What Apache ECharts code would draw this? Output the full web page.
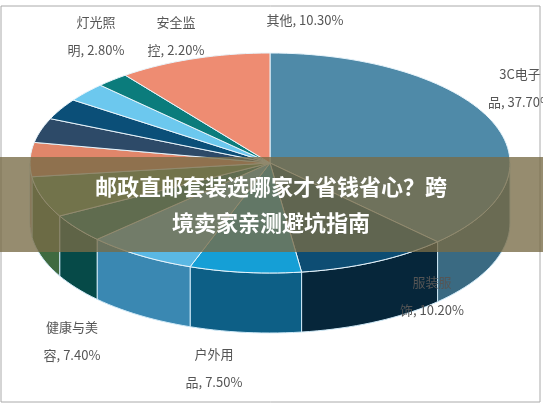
<!DOCTYPE html>
<html><head><meta charset="utf-8">
<script src="https://cdn.jsdelivr.net/npm/echarts@6/dist/echarts.min.js"></script>
<style>html,body{margin:0;padding:0;background:#fff}#main{width:543px;height:408px}</style>
</head><body><div id="main"></div>
<script>
var names = ['3C电子\n品', '服装服\n饰', '户外用\n品', '健康与美\n容', '珠宝首\n饰', '家居园\n艺', '鞋类箱\n包', '母婴玩\n具', '汽车配\n件', '灯光照\n明', '安全监\n控', '其他'];
var values = [37.7, 10.2, 7.5, 7.4, 4.2, 6.0, 5.0, 3.6, 3.1, 2.8, 2.2, 10.3];
var topColors = ['#4f8aa8', '#0d4d73', '#159fd6', '#5ab8e4', '#0a6e6c', '#5e8f5e', '#e0866a', '#2d4a68', '#0b4f78', '#6cc8ee', '#0b7c7c', '#ee8c72'];
var sideColors = ['#3a6a82', '#06263a', '#0d5f86', '#3a88b2', '#064a48', '#3f6a40', '#a8604a', '#1c3048', '#072f4a', '#3d95bd', '#065454', '#b8644f'];
// label anchor positions (layout only)
var labelPos = [[520, 88], [432, 296], [214, 368], [72, 341], [-2, 314], [-2, 212], [-2, 172], [-2, 110], [-2, 58], [96, 36], [176, 36], [305, 20]];

var cx = 270, cy = 163, rx = 240, ry = 110, depth = 60;
var total = values.reduce(function (a, b) { return a + b; }, 0);
var starts = [], acc = 0;
values.forEach(function (v) { starts.push(acc / total * 360); acc += v; });

function pt(deg, dy) {
    var t = deg * Math.PI / 180;
    return [cx + rx * Math.sin(t), cy - ry * Math.cos(t) + (dy || 0)];
}
function arc(a, b, dy) {
    var pts = [];
    var n = Math.max(2, Math.ceil((b - a) / 2));
    for (var i = 0; i <= n; i++) pts.push(pt(a + (b - a) * i / n, dy));
    return pts;
}

var chart = echarts.init(document.getElementById('main'));
chart.setOption({
    animation: false,
    series: [
        {
            type: 'custom', coordinateSystem: 'none', data: values,
            renderItem: function (params, api) {
                var i = params.dataIndex;
                var a = starts[i], b = a + values[i] / total * 360;
                var a2 = Math.max(a, 90), b2 = Math.min(b, 270);
                if (b2 <= a2) return { type: 'group', children: [] };
                var pts = arc(a2, b2, 0).concat(arc(a2, b2, depth).reverse());
                return { type: 'polygon', shape: { points: pts },
                    style: { fill: sideColors[i], stroke: '#cfe9f7', lineWidth: 1 } };
            }
        },
        {
            type: 'custom', coordinateSystem: 'none', data: values,
            renderItem: function (params, api) {
                var i = params.dataIndex;
                var a = starts[i], b = a + values[i] / total * 360;
                var pts = [[cx, cy]].concat(arc(a, b, 0));
                var txt = names[i] + ', ' + values[i].toFixed(2) + '%';
                return { type: 'group', children: [
                    { type: 'polygon', shape: { points: pts },
                      style: { fill: topColors[i], stroke: '#e8f4fb', lineWidth: 1 } },
                    { type: 'text', x: labelPos[i][0], y: labelPos[i][1],
                      style: { text: txt, fill: '#555', font: '13px "Noto Sans CJK SC"', lineHeight: 28,
                               align: labelPos[i][0] < 10 ? 'right' : 'center', verticalAlign: 'middle' } }
                ] };
            }
        }
    ],
    graphic: [
        { type: 'rect', shape: { x: 1, y: 6, width: 539, height: 396 }, style: { fill: 'none', stroke: '#aaa', lineWidth: 1 }, z: 50 },
        { type: 'rect', shape: { x: 0, y: 157, width: 543, height: 95 }, style: { fill: 'rgba(120,108,70,0.78)' }, z: 100 },
        { type: 'text', x: 271, y: 205, z: 101,
          style: { text: '邮政直邮套装选哪家才省钱省心？跨\n境卖家亲测避坑指南', fill: '#fff',
                   font: 'bold 22px "Noto Sans CJK SC"', lineHeight: 36, align: 'center', verticalAlign: 'middle' } }
    ]
});
</script></body></html>
